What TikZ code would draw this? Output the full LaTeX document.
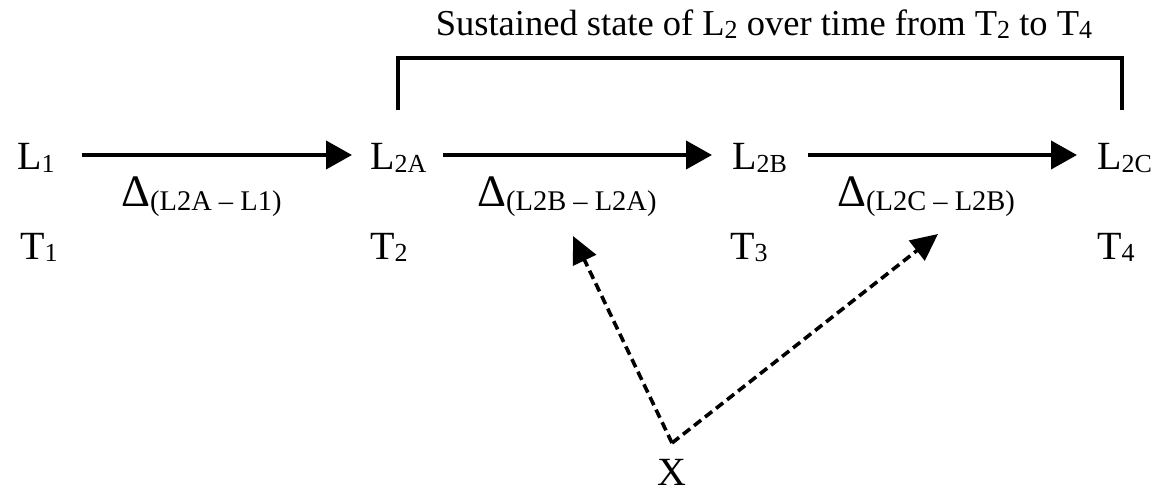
\documentclass[tikz,border=0pt]{standalone}
\usepackage{fontspec}
\setmainfont{Liberation Serif}
\usetikzlibrary{arrows.meta,calc}
\tikzset{
  lbl/.style={inner sep=0pt, font=\fontsize{40}{48}\selectfont},
  ttl/.style={inner sep=0pt, font=\fontsize{36.5}{42}\selectfont},
  arr/.style={line width=4pt, -{Triangle[length=26pt,width=28pt]}},
  darr/.style={line width=3.6pt, dash pattern=on 9pt off 5pt, -{Triangle[length=27pt,width=25pt]}},
  brk/.style={line width=4pt, line join=miter}
}
\newcommand{\lsb}[1]{\raisebox{-0.06em}{\fontsize{26}{30}\selectfont #1}}
\newcommand{\dlt}[1]{{\fontsize{45}{50}\selectfont Δ}\raisebox{-0.08em}{\fontsize{28.5}{32}\selectfont #1}}
\begin{document}
\begin{tikzpicture}[x=1pt,y=-1pt]
\useasboundingbox (0,0) rectangle (1163,492);
% title
\node[ttl, anchor=base] (title) at (764,36) {Sustained state of L\lsb{2} over time from T\lsb{2} to T\lsb{4}};
% L row
\node[lbl, anchor=base west] (L1) at (17,170) {L\lsb{1}};
\node[lbl, anchor=base west] (L2A) at (370,170) {L\lsb{2A}};
\node[lbl, anchor=base west] (L2B) at (732,170) {L\lsb{2B}};
\node[lbl, anchor=base west] (L2C) at (1097,170) {L\lsb{2C}};
% deltas
\node[lbl, anchor=base west] (D1) at (121,207) {\dlt{(L2A – L1)}};
\node[lbl, anchor=base west] (D2) at (477,207) {\dlt{(L2B – L2A)}};
\node[lbl, anchor=base west] (D3) at (837,207) {\dlt{(L2C – L2B)}};
% T row
\node[lbl, anchor=base west] (T1) at (20,259) {T\lsb{1}};
\node[lbl, anchor=base west] (T2) at (370,259) {T\lsb{2}};
\node[lbl, anchor=base west] (T3) at (730,259) {T\lsb{3}};
\node[lbl, anchor=base west] (T4) at (1097,259) {T\lsb{4}};
% X
\node[lbl, anchor=base] (X) at (672,485) {X};
% solid arrows
\draw[arr] ([shift={(65,-15)}]L1.base west) -- ([shift={(-18,-15)}]L2A.base west);
\draw[arr] ([shift={(73,-15)}]L2A.base west) -- ([shift={(-20,-15)}]L2B.base west);
\draw[arr] ([shift={(76,-15)}]L2B.base west) -- ([shift={(-20,-15)}]L2C.base west);
% bracket
\coordinate (bl) at (398,110);
\coordinate (br) at (1122,110);
\draw[brk] (bl) -- (bl |- 0,58) -- (br |- 0,58) -- (br);
% dashed arrows
\coordinate (v) at (672,443);
\coordinate (tipL) at (573,236);
\coordinate (tipR) at (938,234);
\draw[darr] (v) -- (tipL);
\draw[darr] (v) -- (tipR);
\end{tikzpicture}
\end{document}
